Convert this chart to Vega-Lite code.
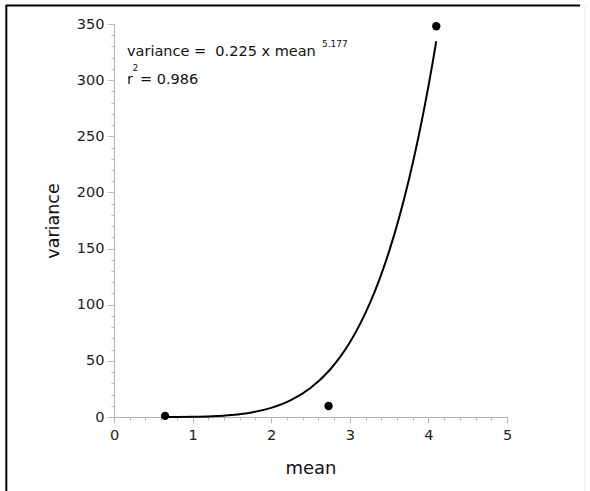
{
  "$schema": "https://vega.github.io/schema/vega-lite/v6.json",
  "width": 393,
  "height": 393,
  "autosize": "none",
  "padding": {"left": 114, "top": 24, "right": 83, "bottom": 74},
  "background": "white",
  "config": {"view": {"stroke": null}, "font": "DejaVu Sans"},
  "resolve": {"axis": {"x": "independent", "y": "independent"}},
  "datasets": {
    "curve": [
      {"mean": 0.65, "variance": 0.024},
      {"mean": 0.8, "variance": 0.071},
      {"mean": 1.0, "variance": 0.225},
      {"mean": 1.25, "variance": 0.714},
      {"mean": 1.5, "variance": 1.836},
      {"mean": 1.75, "variance": 4.077},
      {"mean": 2.0, "variance": 8.14},
      {"mean": 2.25, "variance": 14.98},
      {"mean": 2.5, "variance": 25.84},
      {"mean": 2.75, "variance": 42.32},
      {"mean": 2.875, "variance": 53.28},
      {"mean": 3.0, "variance": 66.41},
      {"mean": 3.125, "variance": 82.03},
      {"mean": 3.25, "variance": 100.5},
      {"mean": 3.375, "variance": 122.2},
      {"mean": 3.5, "variance": 147.5},
      {"mean": 3.625, "variance": 176.9},
      {"mean": 3.75, "variance": 210.8},
      {"mean": 3.875, "variance": 249.8},
      {"mean": 4.0, "variance": 294.4},
      {"mean": 4.05, "variance": 314.0},
      {"mean": 4.1, "variance": 334.6}
    ],
    "points": [
      {"mean": 0.65, "variance": 1},
      {"mean": 2.73, "variance": 9.8},
      {"mean": 4.1, "variance": 348}
    ],
    "vframe": [
      {"x1": -1.37, "y1": 366.4, "y2": -70}
    ],
    "hframe": [
      {"x1": -1.38, "x2": 5.93, "y1": 366.4}
    ]
  },
  "layer": [
    {
      "data": {"name": "curve"},
      "mark": {"type": "line", "color": "black", "strokeWidth": 2, "interpolate": "monotone"},
      "encoding": {
        "x": {
          "field": "mean", "type": "quantitative",
          "scale": {"domain": [0, 5], "nice": false, "zero": false},
          "axis": {
            "title": "mean",
            "orient": "bottom",
            "values": [0,0.2,0.4,0.6,0.8,1,1.2,1.4,1.6,1.8,2,2.2,2.4,2.6,2.8,3,3.2,3.4,3.6,3.8,4,4.2,4.4,4.6,4.8,5],
            "labelExpr": "abs(datum.value - round(datum.value)) < 0.01 ? format(datum.value, 'd') : ''",
            "tickSize": {"expr": "abs(datum.value - round(datum.value)) < 0.01 ? 6 : 3"},
            "labelOverlap": false,
            "labelFlush": false,
            "grid": false,
            "domainColor": "#b5b5b5",
            "tickColor": "#b5b5b5",
            "labelColor": "#222",
            "labelFontSize": 14.5,
            "labelPadding": 5,
            "titleFontSize": 18,
            "titleFontWeight": "normal",
            "titleColor": "#111",
            "titlePadding": 18
          }
        },
        "y": {
          "field": "variance", "type": "quantitative",
          "scale": {"domain": [0, 350], "nice": false},
          "axis": {
            "title": "variance",
            "orient": "left",
            "values": [0,10,20,30,40,50,60,70,80,90,100,110,120,130,140,150,160,170,180,190,200,210,220,230,240,250,260,270,280,290,300,310,320,330,340,350],
            "labelExpr": "datum.value % 50 === 0 ? format(datum.value, 'd') : ''",
            "tickSize": {"expr": "datum.value % 50 === 0 ? 6 : 3"},
            "labelOverlap": false,
            "labelFlush": false,
            "grid": false,
            "domainColor": "#b5b5b5",
            "tickColor": "#b5b5b5",
            "labelColor": "#222",
            "labelFontSize": 14.5,
            "labelPadding": 4,
            "titleFontSize": 17.5,
            "titleFontWeight": "normal",
            "titleColor": "#111",
            "titlePadding": 14
          }
        }
      }
    },
    {
      "data": {"name": "points"},
      "mark": {"type": "point", "filled": true, "color": "black", "opacity": 1, "size": 70},
      "encoding": {
        "x": {"field": "mean", "type": "quantitative", "axis": null},
        "y": {"field": "variance", "type": "quantitative", "axis": null}
      }
    },
    {
      "data": {"values": [{"label": "variance =\u00a0\u00a00.225 x mean"}]},
      "mark": {"type": "text", "align": "left", "baseline": "alphabetic", "fontSize": 14.5, "color": "#111"},
      "encoding": {
        "x": {"datum": 0.165, "type": "quantitative", "axis": null},
        "y": {"datum": 321.5, "type": "quantitative", "axis": null},
        "text": {"field": "label"}
      }
    },
    {
      "data": {"values": [{"label": "5.177"}]},
      "mark": {"type": "text", "align": "left", "baseline": "alphabetic", "fontSize": 9, "color": "#111"},
      "encoding": {
        "x": {"datum": 2.646, "type": "quantitative", "axis": null},
        "y": {"datum": 329.5, "type": "quantitative", "axis": null},
        "text": {"field": "label"}
      }
    },
    {
      "data": {"values": [{"label": "r"}]},
      "mark": {"type": "text", "align": "left", "baseline": "alphabetic", "fontSize": 14.5, "color": "#111"},
      "encoding": {
        "x": {"datum": 0.165, "type": "quantitative", "axis": null},
        "y": {"datum": 296.5, "type": "quantitative", "axis": null},
        "text": {"field": "label"}
      }
    },
    {
      "data": {"values": [{"label": "2"}]},
      "mark": {"type": "text", "align": "left", "baseline": "alphabetic", "fontSize": 8.5, "color": "#111"},
      "encoding": {
        "x": {"datum": 0.24, "type": "quantitative", "axis": null},
        "y": {"datum": 308.5, "type": "quantitative", "axis": null},
        "text": {"field": "label"}
      }
    },
    {
      "data": {"values": [{"label": "= 0.986"}]},
      "mark": {"type": "text", "align": "left", "baseline": "alphabetic", "fontSize": 14.5, "color": "#111"},
      "encoding": {
        "x": {"datum": 0.33, "type": "quantitative", "axis": null},
        "y": {"datum": 296.5, "type": "quantitative", "axis": null},
        "text": {"field": "label"}
      }
    },
    {
      "data": {"name": "vframe"},
      "mark": {"type": "rule", "color": "black", "strokeWidth": 2},
      "encoding": {
        "x": {"field": "x1", "type": "quantitative", "axis": null},
        "y": {"field": "y1", "type": "quantitative", "axis": null},
        "y2": {"field": "y2"}
      }
    },
    {
      "data": {"name": "hframe"},
      "mark": {"type": "rule", "color": "black", "strokeWidth": 2},
      "encoding": {
        "x": {"field": "x1", "type": "quantitative", "axis": null},
        "x2": {"field": "x2"},
        "y": {"field": "y1", "type": "quantitative", "axis": null}
      }
    },
    {
      "data": {"values": [{"x1": 5.99, "y1": 366.4, "y2": -70}]},
      "mark": {"type": "rule", "color": "#ececec", "strokeWidth": 1},
      "encoding": {
        "x": {"field": "x1", "type": "quantitative", "axis": null},
        "y": {"field": "y1", "type": "quantitative", "axis": null},
        "y2": {"field": "y2"}
      }
    }
  ]
}
